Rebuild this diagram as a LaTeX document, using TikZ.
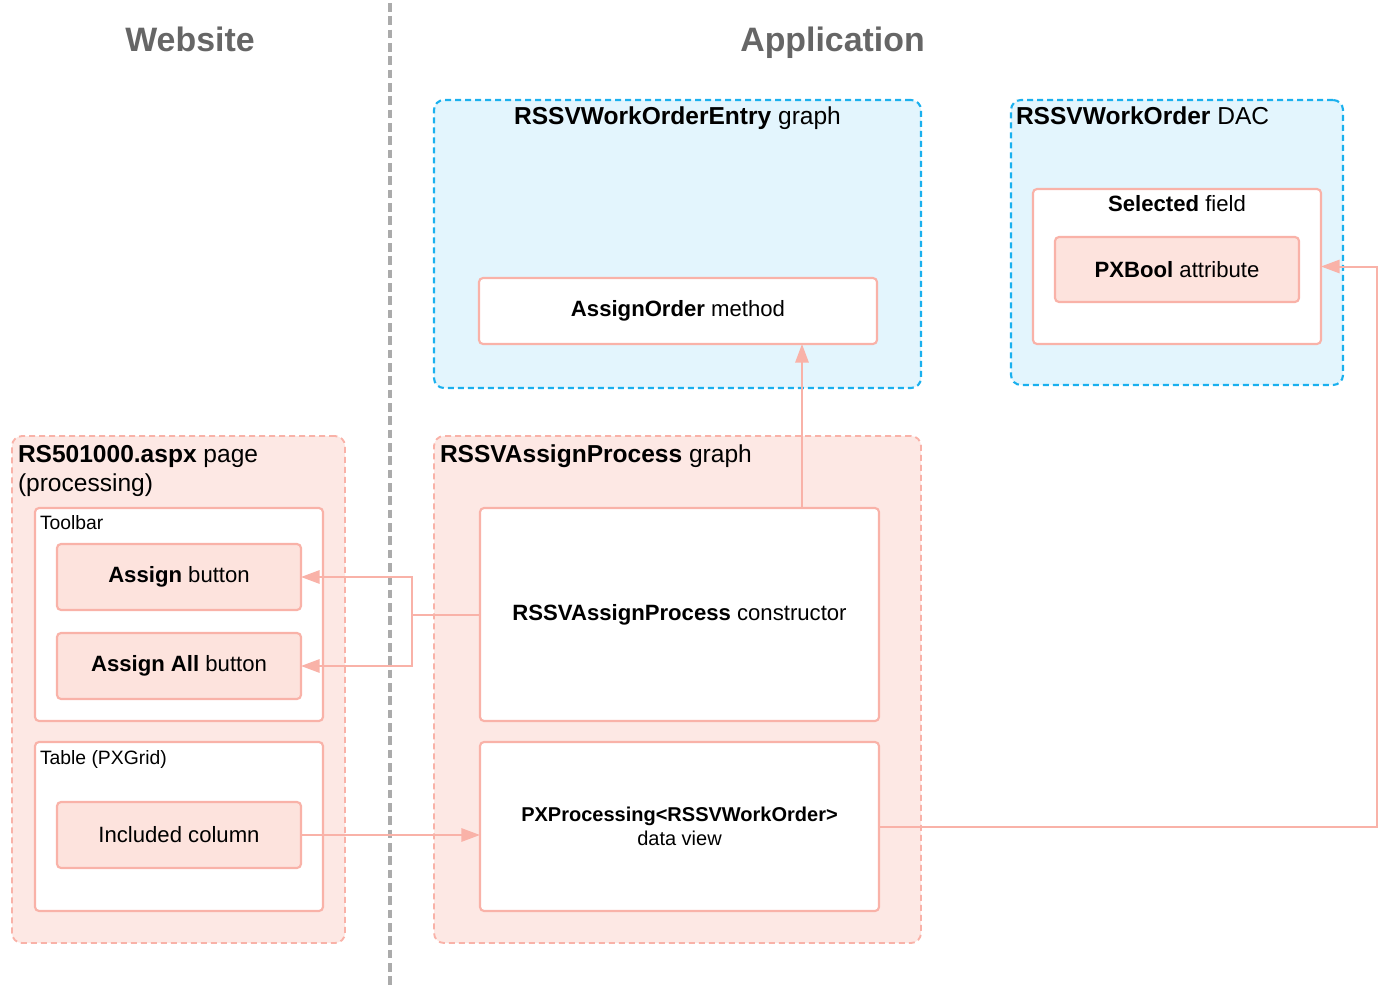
\documentclass[tikz,border=0pt]{standalone}
\usepackage{fontspec}
\setmainfont{Liberation Sans}
\usetikzlibrary{fit,arrows.meta}

\definecolor{pinkline}{HTML}{F9B2A8}
\definecolor{pinkfill}{HTML}{FDE8E4}
\definecolor{btnfill}{HTML}{FDE3DD}
\definecolor{bluefill}{HTML}{E3F5FD}
\definecolor{blueline}{HTML}{1AB0EE}
\definecolor{headgray}{HTML}{666666}
\definecolor{divgray}{HTML}{ABABAB}

\begin{document}
\begin{tikzpicture}[x=0.75pt,y=-0.75pt,
  every node/.style={inner sep=0pt, outer sep=0pt},
  bluegroup/.style={draw=blueline, fill=bluefill, dash pattern=on 4.5pt off 3pt,
    line width=1.6pt, rounded corners=7.5pt},
  pinkgroup/.style={draw=pinkline, fill=pinkfill, dash pattern=on 4.5pt off 3pt,
    line width=1.4pt, rounded corners=7.5pt},
  panel/.style={draw=pinkline, fill=white, line width=1.6pt, rounded corners=3pt},
  btn/.style={panel, fill=btnfill},
  wire/.style={draw=pinkline, line width=1.5pt},
  flow/.style={wire, -{Triangle[length=14pt,width=10pt]}},
  divider/.style={draw=divgray, line width=2.5pt, dash pattern=on 6.5pt off 3.5pt},
  heading/.style={text=headgray, font=\fontsize{25.4}{30}\selectfont\bfseries, anchor=base},
  grouptitle/.style={font=\fontsize{18.4}{22}\selectfont, anchor=base west},
  boxtext/.style={font=\fontsize{16.6}{20}\selectfont},
  viewtext/.style={font=\fontsize{15}{18.5}\selectfont, align=center},
  smalltitle/.style={font=\fontsize{14.5}{17}\selectfont, anchor=base west}]

\useasboundingbox (0,0) rectangle (1378,988);

% column separator and headings
\draw[divider] (390,3) -- (390,988);
\node[heading] (hweb) at (190,52) {Website};
\node[heading] (happ) at (832.5,52) {Application};

% outer groups
\node[bluegroup, fit={(434,100) (921,388)}] (entry) {};
\node[bluegroup, fit={(1011,100) (1343,385)}] (dac) {};
\node[pinkgroup, fit={(12,436) (345,943)}] (page) {};
\node[pinkgroup, fit={(434,436) (921,943)}] (proc) {};

\node[grouptitle, anchor=base] (entryT) at (677.5,125) {\textbf{RSSVWorkOrderEntry} graph};
\node[grouptitle] (dacT) at (1016,125) {\textbf{RSSVWorkOrder} DAC};
\node[grouptitle] (pageT) at (18,462) {\textbf{RS501000.aspx} page};
\node[grouptitle] (pageT2) at (18,491) {(processing)};
\node[grouptitle] (procT) at (440,462) {\textbf{RSSVAssignProcess} graph};

% graph entry
\node[panel, fit={(479,278) (877,344)},
  label={[boxtext]center:\textbf{AssignOrder} method}] (method) {};

% DAC
\node[panel, fit={(1033,189) (1321,344)}] (field) {};
\node[boxtext, anchor=base] (fieldT) at (1177,211.5) {\textbf{Selected} field};
\node[btn, fit={(1055,237) (1299,302)},
  label={[boxtext]center:\textbf{PXBool} attribute}] (bool) {};

% page
\node[panel, fit={(35,508) (323,721)}] (toolbar) {};
\node[smalltitle] (toolbarT) at (40,529) {Toolbar};
\node[btn, fit={(57,544) (301,610)},
  label={[boxtext]center:\textbf{Assign} button}] (assign) {};
\node[btn, fit={(57,633) (301,699)},
  label={[boxtext]center:\textbf{Assign All} button}] (assignall) {};
\node[panel, fit={(35,742) (323,911)}] (grid) {};
\node[smalltitle] (gridT) at (40,764) {Table (PXGrid)};
\node[btn, fit={(57,802) (301,868)},
  label={[boxtext]center:Included column}] (incl) {};

% processing graph
\node[panel, fit={(480,508) (879,721)},
  label={[boxtext]center:\textbf{RSSVAssignProcess} constructor}] (ctor) {};
\node[panel, fit={(480,742) (879,911)},
  label={[viewtext]center:\textbf{PXProcessing<RSSVWorkOrder>}\\data view}] (view) {};

% connectors
\draw[wire] (ctor.west) -- ++(-68,0) coordinate (split);
\draw[flow] (split) |- (assign.east);
\draw[flow] (split) |- (assignall.east);
\coordinate (riser) at (802,0);
\draw[flow] (ctor.north -| riser) -- (method.south -| riser);
\draw[flow] (incl.east) -- (incl.east -| view.west);
\coordinate (rail) at (1377,0);
\draw[flow] (view.east) -- (view.east -| rail) |- (field.east);

\end{tikzpicture}
\end{document}
